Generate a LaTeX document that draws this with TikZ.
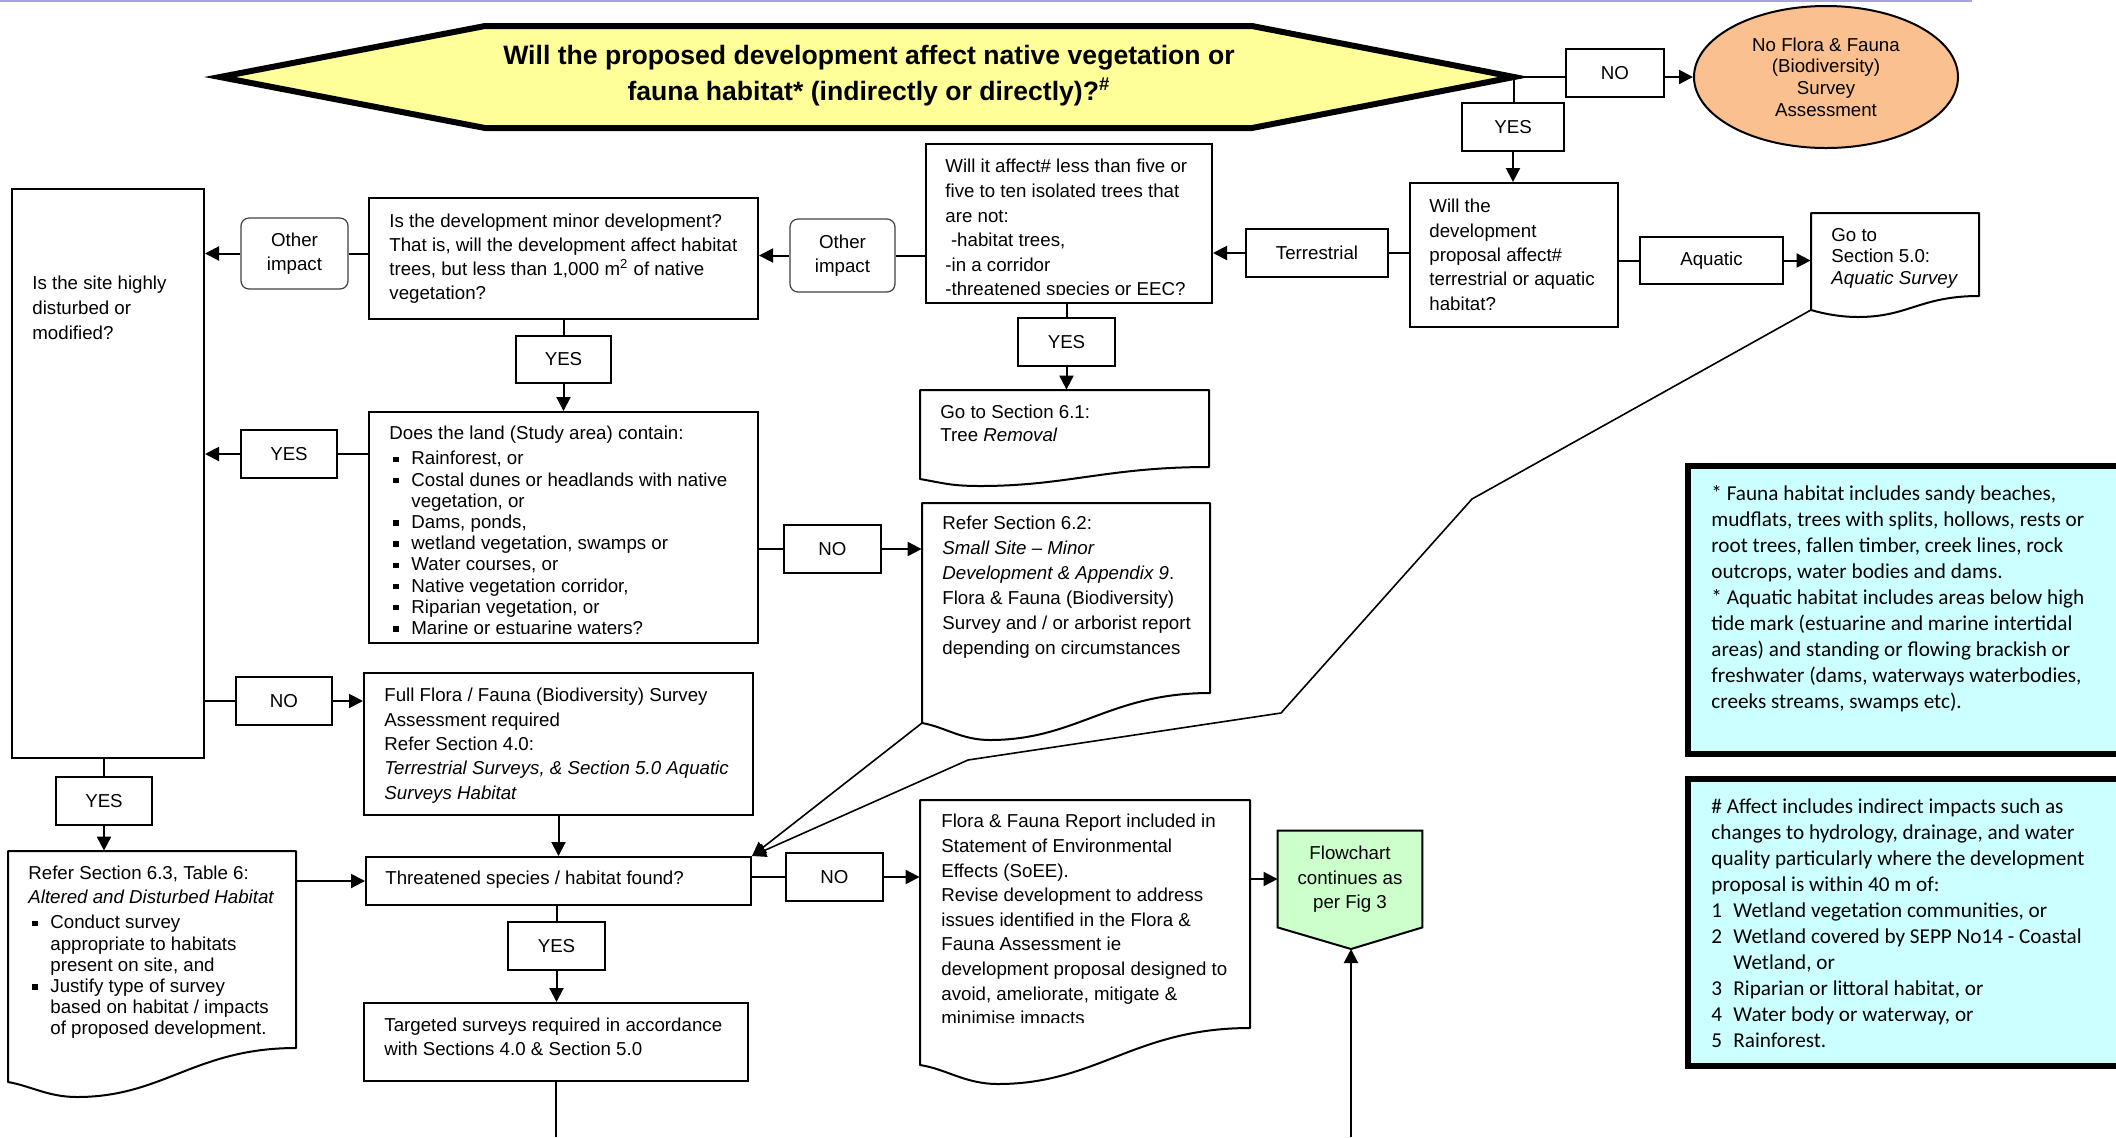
\documentclass[tikz,border=0pt]{standalone}
\usepackage{fontspec}
\setmainfont{Liberation Sans}
\newfontfamily\legfont{Carlito}
\usetikzlibrary{arrows.meta,shapes.geometric}
\definecolor{hexfill}{RGB}{255,255,153}
\definecolor{peach}{RGB}{250,192,143}
\definecolor{flowfill}{RGB}{204,255,204}
\definecolor{legfill}{RGB}{204,255,255}
\definecolor{lav}{RGB}{165,165,220}
\newcommand\fsz[1]{\fontsize{9.35pt}{#1pt}\selectfont}
\newcommand\bul{\hspace*{2pt}\makebox[9pt][l]{\rule[1.5pt]{2.7pt}{2.7pt}}}
\newcommand\itemind{\hspace*{11pt}}
\newcommand\numit[1]{\makebox[11pt][l]{#1}}
\newcommand\bx[7][]{\node[box,#1,minimum width={(#5-#3)*0.5pt},minimum height={(#6-#4)*0.5pt}] (#2) at ({(#3+#5)/2},{(#4+#6)/2}) {#7};}
\newcommand\docshape[8]{%
  \node[draw=none,inner sep=0pt,minimum width={(#4-#2)*0.5pt},minimum height={(#5-#3)*0.5pt}] (#1) at ({(#2+#4)/2},{(#3+#5)/2}) {};
  \coordinate (#1-bl) at (#2,#6);
  \draw[docline] (#2,#6) -- (#2,#3) -- (#4,#3) -- (#4,#5)
    .. controls ({#4-0.35*(#4-#2)},#5) and ({#7+0.3*(#4-#2)},#8) .. (#7,#8)
    .. controls ({#7-0.1*(#4-#2)},#8) and ({#2+0.08*(#4-#2)},{#6+4}) .. (#2,#6) -- cycle;}
\begin{document}
\begin{tikzpicture}[x=0.5pt,y=-0.5pt,
  box/.style={draw,line width=1pt,inner sep=0pt,font={\fsz{12}}},
  docline/.style={draw,line width=1pt,line join=round},
  other/.style={rounded corners=4pt,line width=0.6pt,draw=black!75,align=center},
  txt/.style={anchor=north west,inner sep=0pt,align=left},
  conn/.style={line width=1pt},
  arr/.style={line width=1pt,-{Triangle[length=7pt,width=7pt]}},
  diag/.style={line width=0.8pt,-{Triangle[length=7pt,width=7pt]}},
  leg/.style={line width=3pt,fill=legfill},
  legtxt/.style={anchor=north west,inner sep=0pt,align=left,font={\legfont\fontsize{10.6pt}{13pt}\selectfont}}]
\useasboundingbox (0,0) rectangle (2116,1137);
\begin{scope}
\clip (0,0) rectangle (2116,1137);
% top rule
\coordinate (tl0) at (0,1);
\coordinate (tl1) at (1972,1);
\draw[lav,line width=1.2pt] (tl0) -- (tl1);

% hexagon question
\draw[line width=3pt,fill=hexfill,line join=miter] (220,77) -- (485,26) -- (1252,26) -- (1514,77) -- (1252,128) -- (485,128) -- cycle;
\node[inner sep=0pt,align=center,font={\bfseries\fontsize{13.3pt}{18pt}\selectfont}] (hex) at (869,76)
  {Will the proposed development affect native vegetation or\\fauna habitat* (indirectly or directly)?\textsuperscript{\#}};
\coordinate (hexR) at (1514,77);

% top right
\bx{NOtop}{1566}{49}{1664}{97}{NO}
\bx{YEStop}{1462}{103}{1564}{151}{YES}
\node[ellipse,draw,line width=1pt,fill=peach,minimum width=132pt,minimum height=71pt,inner sep=0pt,align=center,font={\fsz{10.8}}] (ell) at (1826,77)
  {No Flora \& Fauna\\(Biodiversity)\\Survey\\Assessment};
\bx{willdev}{1410}{183}{1618}{327}{}
\node[txt,font={\fsz{12.15}}] (willdevt) at (1429,199) {Will the\\development\\proposal affect\#\\terrestrial or aquatic\\habitat?};
\bx{aquatic}{1640}{237}{1783}{284}{Aquatic}
\docshape{goto50}{1811}{213}{1979}{296}{310}{1858}{317}
\node[txt,font={\fsz{10.75}}] (goto50t) at (1831,228) {Go to\\Section 5.0:\\\textit{Aquatic Survey}};
\bx{terr}{1246}{229}{1388}{277}{Terrestrial}

% will it affect
\bx{willaff}{926}{144}{1212}{303}{}
\begin{scope}
\clip (926,144) rectangle (1212,294);
\node[txt,font={\fsz{12.3}}] (willafft) at (945,159) {Will it affect\# less than five or\\five to ten isolated trees that\\are not:\\\hspace*{0.3em}-habitat trees,\\-in a corridor\\-threatened species or EEC?};
\end{scope}
\bx[other]{other2}{790}{219}{895}{292}{Other\\impact}
\bx{YES2}{1018}{318}{1115}{366}{YES}
\docshape{goto61}{920}{390}{1209}{467}{479}{980}{486}
\node[txt,font={\fsz{11.5}}] (goto61t) at (940,405) {Go to Section 6.1:\\Tree \textit{Removal}};

% minor development
\bx{minor}{369}{198}{758}{319}{}
\node[txt,font={\fsz{12}}] (minort) at (389,214) {Is the development minor development?\\That is, will the development affect habitat\\trees, but less than 1,000 m\textsuperscript{2} of native\\vegetation?};
\bx[other]{other1}{241}{218}{348}{289}{Other\\impact}
\bx{leftbox}{12}{189}{204}{758}{}
\node[txt,font={\fsz{12.5}}] (leftt) at (32,276) {Is the site highly\\disturbed or\\modified?};
\bx{YES1}{516}{336}{611}{383}{YES}

% does the land
\bx{does}{369}{412}{758}{643}{}
\begin{scope}
\clip (369,412) rectangle (758,633);
\node[txt,font={\fsz{10.6}}] (doest) at (389,426) {Does the land (Study area) contain:\\[1.9pt]\bul Rainforest, or\\\bul Costal dunes or headlands with native\\\itemind vegetation, or\\\bul Dams, ponds,\\\bul wetland vegetation, swamps or\\\bul Water courses, or\\\bul Native vegetation corridor,\\\bul Riparian vegetation, or\\\bul Marine or estuarine waters?};
\end{scope}
\bx{YES3}{241}{430}{337}{478}{YES}
\bx{NO2}{784}{525}{881}{573}{NO}
\docshape{refer62}{922}{503}{1210}{693}{723}{990}{740}
\node[txt,font={\fsz{12.5}}] (refer62t) at (942,516) {Refer Section 6.2:\\\textit{Small Site – Minor}\\\textit{Development \& Appendix 9}.\\Flora \& Fauna (Biodiversity)\\Survey and / or arborist report\\depending on circumstances};

% full flora
\bx{NO1}{236}{677}{332}{725}{NO}
\bx{fullflora}{364}{673}{753}{815}{}
\node[txt,font={\fsz{12.15}}] (fullflorat) at (384,688) {Full Flora / Fauna (Biodiversity) Survey\\Assessment required\\Refer Section 4.0:\\\textit{Terrestrial Surveys, \& Section 5.0 Aquatic}\\\textit{Surveys Habitat}};
\bx{YES4}{56}{777}{152}{825}{YES}
\docshape{refer63}{8}{851}{296}{1048}{1082}{77}{1097}
\node[txt,font={\fsz{10.6}}] (refer63t) at (28,866) {Refer Section 6.3, Table 6:\\[1.4pt]\textit{Altered and Disturbed Habitat}\\[1.9pt]\bul Conduct survey\\\itemind appropriate to habitats\\\itemind present on site, and\\\bul Justify type of survey\\\itemind based on habitat / impacts\\\itemind of proposed development.};

% threatened
\bx{threat}{366}{857}{751}{905}{}
\node[txt,font={\fsz{12}}] (threatt) at (385,871) {Threatened species / habitat found?};
\bx{NO3}{786}{853}{883}{901}{NO}
\docshape{report}{920}{800}{1250}{1028}{1065}{998}{1084}
\begin{scope}
\clip (920,800) rectangle (1250,1022);
\node[txt,font={\fsz{12.3}}] (reportt) at (941,814) {Flora \& Fauna Report included in\\Statement of Environmental\\Effects (SoEE).\\Revise development to address\\issues identified in the Flora \&\\Fauna Assessment ie\\development proposal designed to\\avoid, ameliorate, mitigate \&\\minimise impacts};
\end{scope}
\bx{YES5}{508}{922}{605}{970}{YES}
\bx{targeted}{364}{1003}{748}{1081}{}
\node[txt,font={\fsz{12}}] (targetedt) at (384,1018) {Targeted surveys required in accordance\\with Sections 4.0 \& Section 5.0};

% flowchart continues
\node[draw=none,inner sep=0pt,minimum width=72pt,minimum height=48pt] (flow) at (1350,879) {};
\coordinate (flowtip) at (1351,949);
\draw[line width=1pt,fill=flowfill] (flow.north west) -- (flow.north east) -- (flow.south east) -- (flowtip) -- (flow.south west) -- cycle;
\node[anchor=north,inner sep=0pt,align=center,font={\fsz{12.25}}] (flowt) at (1350,846) {Flowchart\\continues as\\per Fig 3};

% legends
\bx[leg]{leg1}{1688}{466}{2140}{754}{}
\node[legtxt] (leg1t) at (1711,485) {* Fauna habitat includes sandy beaches,\\mudflats, trees with splits, hollows, rests or\\root trees, fallen timber, creek lines, rock\\outcrops, water bodies and dams.\\* Aquatic habitat includes areas below high\\tide mark (estuarine and marine intertidal\\areas) and standing or flowing brackish or\\freshwater (dams, waterways waterbodies,\\creeks streams, swamps etc).};
\bx[leg]{leg2}{1688}{779}{2140}{1066}{}
\node[legtxt] (leg2t) at (1711,798) {\# Affect includes indirect impacts such as\\changes to hydrology, drainage, and water\\quality particularly where the development\\proposal is within 40 m of:\\\numit{1}Wetland vegetation communities, or\\\numit{2}Wetland covered by SEPP No14 - Coastal\\\numit{}Wetland, or\\\numit{3}Riparian or littoral habitat, or\\\numit{4}Water body or waterway, or\\\numit{5}Rainforest.};

% connectors
\draw[conn] (hexR) -- (hexR -| NOtop.west);
\draw[arr] (hexR -| NOtop.east) -- (ell.west);
\draw[conn] (hexR) -- (hexR |- YEStop.north);
\draw[arr] (YEStop.south) -- (YEStop.south |- willdev.north);
\draw[conn] (willdev.east |- aquatic) -- (aquatic.west);
\draw[arr] (aquatic.east) -- (goto50.west |- aquatic);
\draw[conn] (willdev.west |- terr) -- (terr.east);
\draw[arr] (terr.west) -- (willaff.east |- terr);
\draw[conn] (willaff.west |- other2) -- (other2.east);
\draw[arr] (other2.west) -- (minor.east |- other2);
\draw[conn] (minor.west |- other1) -- (other1.east);
\draw[arr] (other1.west) -- (leftbox.east |- other1);
\draw[conn] (YES2.north |- willaff.south) -- (YES2.north);
\draw[arr] (YES2.south) -- (YES2.south |- goto61.north);
\draw[conn] (minor.south) -- (YES1.north);
\draw[arr] (YES1.south) -- (does.north);
\draw[conn] (does.west |- YES3) -- (YES3.east);
\draw[arr] (YES3.west) -- (leftbox.east |- YES3);
\draw[conn] (does.east |- NO2) -- (NO2.west);
\draw[arr] (NO2.east) -- (refer62.west |- NO2);
\draw[conn] (leftbox.east |- NO1) -- (NO1.west);
\draw[arr] (NO1.east) -- (fullflora.west |- NO1);
\draw[conn] (YES4.north |- leftbox.south) -- (YES4.north);
\draw[arr] (YES4.south) -- (YES4.south |- refer63.north);
\draw[arr] (refer63.east |- threat) -- (threat.west);
\draw[arr] (fullflora.south) -- (threat.north);
\coordinate (b1) at (1472,499);
\coordinate (b2) at (1281,713);
\coordinate (b3) at (968,760);
\draw[diag,line join=miter] (goto50-bl) -- (b1) -- (b2) -- (b3) -- (threat.north east);
\draw[diag] (refer62-bl) -- (threat.north east);
\draw[conn] (threat.east |- NO3) -- (NO3.west);
\draw[arr] (NO3.east) -- (report.west |- NO3);
\draw[arr] (report.east |- flow) -- (flow.west);
\draw[conn] (YES5.north |- threat.south) -- (YES5.north);
\draw[arr] (YES5.south) -- (YES5.south |- targeted.north);
\coordinate (botA) at (556,1137);
\coordinate (botB) at (1351,1137);
\draw[conn] (targeted.south) -- (botA);
\draw[arr] (botB) -- (flowtip);
\end{scope}
\end{tikzpicture}
\end{document}
